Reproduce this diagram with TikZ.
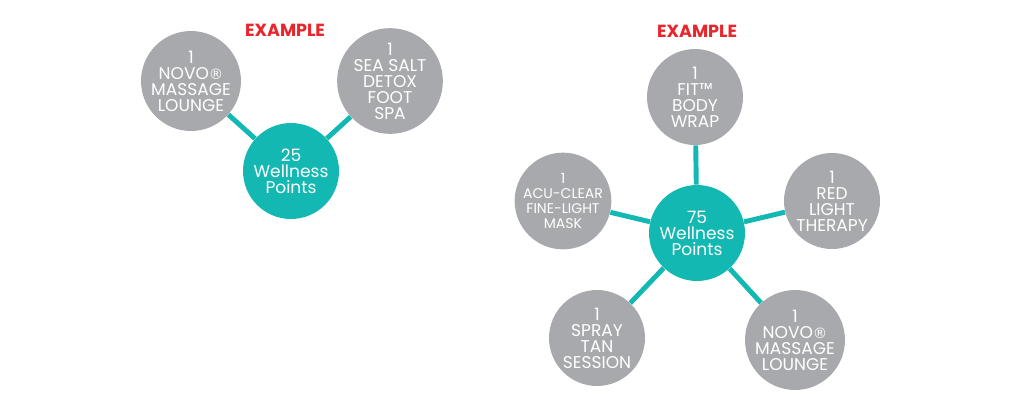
\documentclass[tikz,border=0pt]{standalone}
\usepackage{fontspec}
\setmainfont{Poppins}
\newfontfamily\regfont{DejaVu Sans}
\newcommand{\regmark}{{\regfont\fontsize{8.2}{8}\selectfont ®}}
\definecolor{wellteal}{HTML}{14B8B2}
\definecolor{wellgray}{HTML}{A7A9AC}
\definecolor{examplered}{HTML}{E8262B}
\tikzset{
	treat/.style={circle,fill=wellgray,text=white,minimum size=1.92cm,inner sep=0pt,align=center,font=\fontsize{9.7}{9.1}\selectfont},
	points/.style={treat,fill=wellteal},
	link/.style={draw=wellteal,line width=2.8pt},
	headline/.style={text=examplered,font=\fontsize{10}{12}\selectfont\bfseries}
}
\begin{document}
\begin{tikzpicture} [x=0.02cm,y=-0.02cm]
		\useasboundingbox (0,0) rectangle (1024,406);
		% left example
		\node [headline] (lhead) at (285,30) {EXAMPLE};
		\node [treat] (lnovo) at (191,81) {1\\NOVO\regmark\\MASSAGE\\LOUNGE};
		\node [treat] (lsalt) at (390,81) {1\\SEA SALT\\DETOX\\FOOT\\SPA};
		\node [points] (lpoints) at (291,171) {25\\Wellness\\Points};
		\draw [link] (lpoints) -- (lnovo);
		\draw [link] (lpoints) -- (lsalt);
		% right example
		\node [headline] (rhead) at (697,31) {EXAMPLE};
		\node [treat] (rfit) at (695,97) {1\\FIT™\\BODY\\WRAP};
		\node [treat,font=\fontsize{8}{8.5}\selectfont] (racu) at (563,201) {1\\ACU-CLEAR\\FINE-LIGHT\\MASK};
		\node [treat] (rred) at (832,201) {1\\RED\\LIGHT\\THERAPY};
		\node [points] (rpoints) at (697,233) {75\\Wellness\\Points};
		\node [treat] (rspray) at (597,338) {1\\SPRAY\\TAN\\SESSION};
		\node [treat] (rnovo) at (795,340) {1\\NOVO\regmark\\MASSAGE\\LOUNGE};
		\draw [link] (rpoints) -- (rfit);
		\draw [link] (rpoints) -- (racu);
		\draw [link] (rpoints) -- (rred);
		\draw [link] (rpoints) -- (rspray);
		\draw [link] (rpoints) -- (rnovo);
	\end{tikzpicture}
\end{document}
